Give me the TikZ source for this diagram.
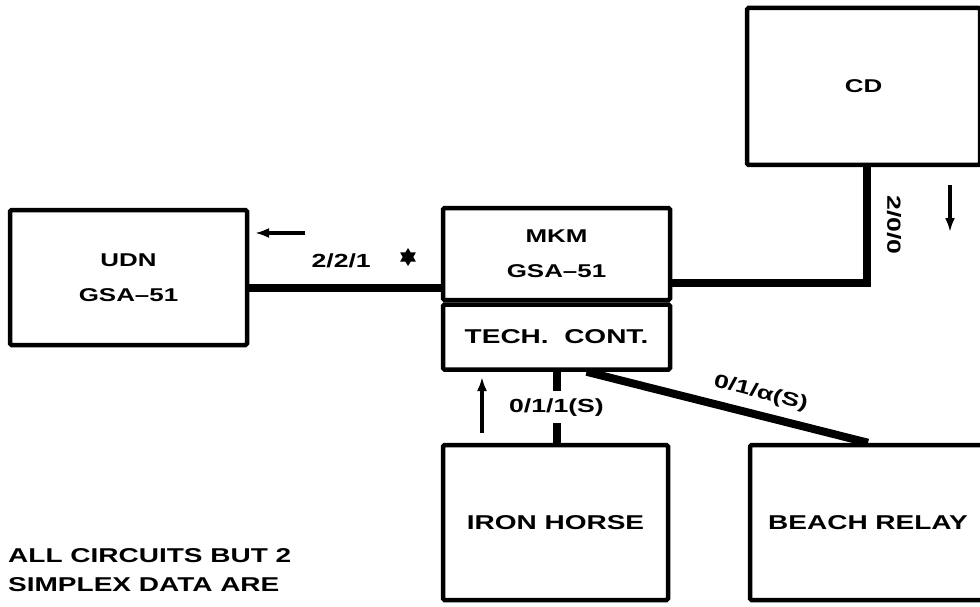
\documentclass[tikz,border=0pt]{standalone}
\usepackage{fontspec}
\setsansfont{Liberation Sans}[FakeStretch=1.4]
\usetikzlibrary{arrows.meta,positioning,calc,shapes.geometric}
\newcommand{\smallfont}{\sffamily\bfseries\fontsize{18.5}{35}\selectfont}
\newcommand{\bigfont}{\sffamily\bfseries\fontsize{20}{24}\selectfont}
\newcommand{\labelfont}{\sffamily\bfseries\fontsize{19}{22}\selectfont}
\tikzset{
  unitbox/.style={draw, line width=4.5pt, rounded corners=1.5pt, align=center, font=\smallfont},
  trunk/.style={line width=8pt},
  flowarrow/.style={line width=3.5pt, -{Latex[length=14pt,width=10pt]}},
  circlabel/.style={font=\labelfont, inner sep=2pt}
}

\begin{document}
\begin{tikzpicture}[x=1pt,y=-1pt]
	\useasboundingbox (0,0) rectangle (980,607);
	\clip (0,0) rectangle (980,607);
	\node[unitbox, minimum width=237pt, minimum height=135pt] (udn) at (128.5,277.5) {UDN\\GSA--51};
	\node[unitbox, minimum width=227pt, minimum height=92pt] (mkm) at (556.5,254) {MKM\\GSA--51};
	\node[unitbox, font=\bigfont, minimum width=227pt, minimum height=65pt, below=0pt of mkm] (tech) {TECH.~~CONT.};
	\node[unitbox, minimum width=233pt, minimum height=157pt] (cd) at (863.5,86.5) {CD};
	\node[unitbox, font=\bigfont, minimum width=225pt, minimum height=155pt] (iron) at (555.5,522.5) {IRON HORSE};
	\node[unitbox, font=\bigfont, minimum width=236pt, minimum height=155pt] (beach) at (868,522.5) {BEACH RELAY};
	\node[font=\bigfont, align=left, anchor=north west, inner sep=0pt] (note) at (8,548) {ALL CIRCUITS BUT 2\\[5pt]SIMPLEX DATA ARE};
	\coordinate (udnport) at ($(udn.east)+(0,10.5)$);
	\coordinate (mkmport) at ($(mkm.east)+(0,29)$);
	\coordinate (cdport) at ($(cd.south)+(3.5,0)$);
	\draw[trunk] (udnport) -- (udnport -| mkm.west) node[circlabel, pos=0.48, above=14pt] (l221) {2/2/1};
	\node[star, star points=6, star point ratio=1.7, fill, minimum size=18pt, inner sep=0pt] (mark) at (408,257) {};
	\draw[trunk] (mkmport) -| (cdport) node[circlabel, pos=0.75, xshift=27pt, rotate=-90] (l200) {2/0/0};
	\draw[trunk] ($(tech.south)+(30,0)$) -- (beach.north) node[circlabel, pos=0.6, sloped, above=7pt] (l01a) {0/1/α(S)};
	\draw[trunk] (tech.south) -- (tech.south |- iron.north) node[circlabel, midway, fill=white, inner ysep=7pt] (l011) {0/1/1(S)};
	\coordinate (wa) at (305,233); \coordinate (wb) at (255,233);
	\coordinate (na) at (482,433); \coordinate (nb) at (482,377);
	\coordinate (sa) at (950,185); \coordinate (sb) at (950,232);
	\draw[flowarrow] (wa) -- (wb);
	\draw[flowarrow] (na) -- (nb);
	\draw[flowarrow] (sa) -- (sb);
\end{tikzpicture}
\end{document}
